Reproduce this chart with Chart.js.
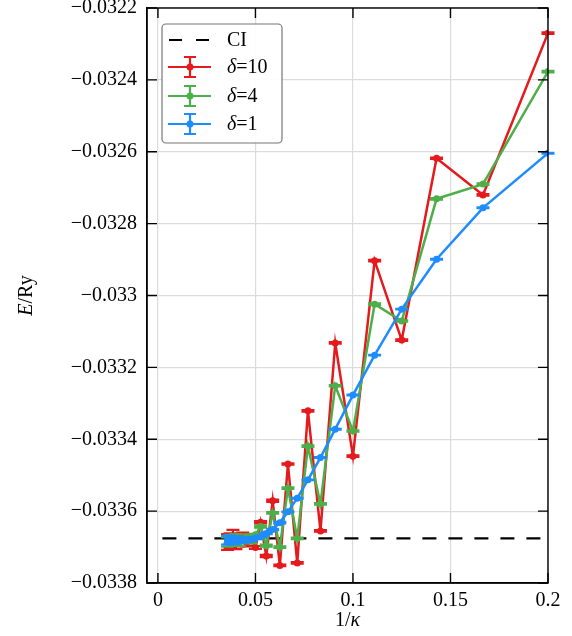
<!DOCTYPE html>
<html>
<head>
<meta charset="utf-8">
<script src="https://cdn.jsdelivr.net/npm/chart.js@4.4.1/dist/chart.umd.min.js"></script>
<style>
  html, body { margin: 0; padding: 0; background: #fff; }
  #wrap { width: 572px; height: 636px; }
</style>
</head>
<body>
<div id="wrap"><canvas id="chart" width="572" height="636"></canvas></div>
<script>
// kappa values, x axis is 1/kappa
var kappa = [5, 6, 7, 8, 9, 10, 11, 12, 13, 14, 15, 16, 17, 18, 19, 20, 21, 22, 23, 24, 25, 26, 27, 28];

var ciEnergy = -0.033676;

var delta10 = [-0.032270, -0.032720, -0.032618, -0.033124, -0.032903, -0.033447, -0.033132, -0.033655,
               -0.033321, -0.033744, -0.033469, -0.033751, -0.033571, -0.033725, -0.033631, -0.033701,
               -0.033678, -0.033688, -0.033672, -0.033684, -0.033690, -0.033670, -0.033682, -0.033686];
var delta10Err = [0.000002, 0.000002, 0.000002, 0.000002, 0.000002, 0.000002, 0.000002, 0.000002,
                  0.000002, 0.000002, 0.000002, 0.000002, 0.000003, 0.000003, 0.000003, 0.000004,
                  0.000008, 0.000010, 0.000012, 0.000014, 0.000016, 0.000018, 0.000020, 0.000022];

var delta4 = [-0.032377, -0.032690, -0.032731, -0.033071, -0.033024, -0.033377, -0.033251, -0.033580,
              -0.033419, -0.033676, -0.033536, -0.033700, -0.033605, -0.033696, -0.033643, -0.033666,
              -0.033684, -0.033672, -0.033680, -0.033688, -0.033674, -0.033682, -0.033678, -0.033686];
var delta4Err = [0.000002, 0.000002, 0.000002, 0.000002, 0.000002, 0.000002, 0.000002, 0.000002,
                 0.000002, 0.000002, 0.000002, 0.000002, 0.000002, 0.000003, 0.000003, 0.000003,
                 0.000006, 0.000007, 0.000008, 0.000009, 0.000010, 0.000011, 0.000012, 0.000013];

var delta1 = [-0.032604, -0.032756, -0.032899, -0.033038, -0.033166, -0.033277, -0.033372, -0.033451,
              -0.033513, -0.033564, -0.033602, -0.033632, -0.033651, -0.033662, -0.033671, -0.033675,
              -0.033678, -0.033680, -0.033679, -0.033681, -0.033680, -0.033682, -0.033679, -0.033681];
var delta1Err = [0.000001, 0.000001, 0.000001, 0.000001, 0.000001, 0.000001, 0.000001, 0.000001,
                 0.000001, 0.000001, 0.000001, 0.000002, 0.000002, 0.000002, 0.000002, 0.000003,
                 0.000005, 0.000006, 0.000007, 0.000008, 0.000009, 0.000010, 0.000011, 0.000012];

var xTicks = [0, 0.05, 0.1, 0.15, 0.2];
var xTickLabels = ['0', '0.05', '0.1', '0.15', '0.2'];
var yTicks = [-0.0338, -0.0336, -0.0334, -0.0332, -0.0330, -0.0328, -0.0326, -0.0324, -0.0322];
var yTickLabels = ['\u22120.0338', '\u22120.0336', '\u22120.0334', '\u22120.0332', '\u22120.033',
                   '\u22120.0328', '\u22120.0326', '\u22120.0324', '\u22120.0322'];

var RED = '#e41a1c', GREEN = '#4daf4a', BLUE = '#1e8cff';
var SERIF = '"Liberation Serif", "Times New Roman", serif';

function pts(vals){
    return vals.map(function(v, i){ return {x: 1 / kappa[i], y: v}; });
}

function series(label, vals, errs, color, order){
    return {
        label: label,
        data: pts(vals),
        errors: errs,
        borderColor: color,
        backgroundColor: color,
        borderWidth: 2.5,
        pointRadius: 3.5,
        pointBorderWidth: 0,
        pointHoverRadius: 3.5,
        tension: 0,
        order: order
    };
}

// error bars, drawn right after each dataset so the layering stays right
var errorBars = {
    id: 'errorBars',
    afterDatasetDraw: function(chart, args){
        var ds = chart.data.datasets[args.index];
        if ( !ds.errors ) return;
        var ctx = chart.ctx, ys = chart.scales.y;
        ctx.save();
        ctx.strokeStyle = ds.borderColor;
        ctx.lineWidth = 2.2;
        args.meta.data.forEach(function(p, i){
            var v = ds.data[i].y, e = ds.errors[i];
            var top = ys.getPixelForValue(v + e), bot = ys.getPixelForValue(v - e);
            ctx.beginPath();
            ctx.moveTo(p.x, top); ctx.lineTo(p.x, bot);
            ctx.moveTo(p.x - 6.5, top); ctx.lineTo(p.x + 6.5, top);
            ctx.moveTo(p.x - 6.5, bot); ctx.lineTo(p.x + 6.5, bot);
            ctx.stroke();
        });
        ctx.restore();
    }
};

function richText(ctx, parts, x, y){
    // parts: [text, italic]; centred on x
    var w = 0;
    parts.forEach(function(p){
        ctx.font = (p[1] ? 'italic ' : '') + '20px ' + SERIF;
        w += ctx.measureText(p[0]).width;
    });
    var cx = x - w / 2;
    ctx.textAlign = 'left';
    parts.forEach(function(p){
        ctx.font = (p[1] ? 'italic ' : '') + '20px ' + SERIF;
        ctx.fillText(p[0], cx, y);
        cx += ctx.measureText(p[0]).width;
    });
}

var frame = {
    id: 'frame',
    afterDraw: function(chart){
        var ctx = chart.ctx, a = chart.chartArea;
        var xs = chart.scales.x, ys = chart.scales.y;
        ctx.save();
        ctx.strokeStyle = '#000';
        ctx.lineWidth = 1.4;
        ctx.strokeRect(a.left, a.top, a.right - a.left, a.bottom - a.top);

        // inward ticks on all four sides
        ctx.beginPath();
        xTicks.forEach(function(t){
            var px = xs.getPixelForValue(t);
            ctx.moveTo(px, a.bottom); ctx.lineTo(px, a.bottom - 10);
            ctx.moveTo(px, a.top); ctx.lineTo(px, a.top + 10);
        });
        yTicks.forEach(function(t){
            var py = ys.getPixelForValue(t);
            ctx.moveTo(a.left, py); ctx.lineTo(a.left + 10, py);
            ctx.moveTo(a.right, py); ctx.lineTo(a.right - 10, py);
        });
        ctx.stroke();

        // axis titles
        ctx.fillStyle = '#000';
        ctx.textBaseline = 'middle';
        richText(ctx, [['1/', false], ['\u03BA', true]], (a.left + a.right) / 2, 621);
        ctx.save();
        ctx.translate(27, (a.top + a.bottom) / 2);
        ctx.rotate(-Math.PI / 2);
        richText(ctx, [['E', true], ['/Ry', false]], 0, 0);
        ctx.restore();

        // legend
        var bx = 162, by = 24, bw = 120, bh = 119, r = 4;
        ctx.beginPath();
        ctx.moveTo(bx + r, by);
        ctx.arcTo(bx + bw, by, bx + bw, by + bh, r);
        ctx.arcTo(bx + bw, by + bh, bx, by + bh, r);
        ctx.arcTo(bx, by + bh, bx, by, r);
        ctx.arcTo(bx, by, bx + bw, by, r);
        ctx.closePath();
        ctx.fillStyle = 'rgba(255,255,255,0.9)';
        ctx.fill();
        ctx.strokeStyle = '#777';
        ctx.lineWidth = 1.2;
        ctx.stroke();

        var rows = [
            {y: 40, dash: true, color: '#000', parts: [['CI', false]]},
            {y: 67, color: RED, parts: [['\u03B4', true], ['=10', false]]},
            {y: 96, color: GREEN, parts: [['\u03B4', true], ['=4', false]]},
            {y: 124, color: BLUE, parts: [['\u03B4', true], ['=1', false]]}
        ];
        rows.forEach(function(row){
            ctx.strokeStyle = row.color;
            ctx.fillStyle = row.color;
            ctx.lineWidth = 2.2;
            ctx.beginPath();
            if ( row.dash ){
                ctx.moveTo(169, row.y); ctx.lineTo(182, row.y);
                ctx.moveTo(196, row.y); ctx.lineTo(209, row.y);
                ctx.stroke();
            } else {
                ctx.moveTo(168, row.y); ctx.lineTo(211, row.y);
                ctx.moveTo(190, row.y - 10); ctx.lineTo(190, row.y + 10);
                ctx.moveTo(184, row.y - 10); ctx.lineTo(196, row.y - 10);
                ctx.moveTo(184, row.y + 10); ctx.lineTo(196, row.y + 10);
                ctx.stroke();
                ctx.beginPath();
                ctx.arc(190, row.y, 3.5, 0, Math.PI * 2);
                ctx.fill();
            }
            ctx.fillStyle = '#000';
            ctx.textBaseline = 'middle';
            var w = 0;
            row.parts.forEach(function(p){
                ctx.font = (p[1] ? 'italic ' : '') + '20px ' + SERIF;
                w += ctx.measureText(p[0]).width;
            });
            richText(ctx, row.parts, 227 + w / 2, row.y + 1);
        });
        ctx.restore();
    }
};

var myChart = new Chart(document.getElementById('chart'), {
    type: 'line',
    data: {
        datasets: [
            {
                label: 'CI',
                data: [{x: 0.0023, y: ciEnergy}, {x: 0.2, y: ciEnergy}],
                borderColor: '#000',
                borderWidth: 2.2,
                borderDash: [14, 12],
                pointRadius: 0,
                order: 4
            },
            series('\u03B4=10', delta10, delta10Err, RED, 3),
            series('\u03B4=4', delta4, delta4Err, GREEN, 2),
            series('\u03B4=1', delta1, delta1Err, BLUE, 1)
        ]
    },
    options: {
        responsive: false,
        animation: false,
        devicePixelRatio: 1,
        layout: { padding: { left: 0, right: 24, top: 8, bottom: 0 } },
        plugins: {
            legend: { display: false },
            tooltip: { enabled: false }
        },
        scales: {
            x: {
                type: 'linear',
                min: -0.0056,
                max: 0.2,
                afterBuildTicks: function(s){ s.ticks = xTicks.map(function(v){ return {value: v}; }); },
                afterFit: function(s){ s.height = 53; s.paddingLeft = 0; s.paddingRight = 0; },
                ticks: {
                    autoSkip: false,
                    maxRotation: 0,
                    padding: 6,
                    color: '#000',
                    font: { family: SERIF, size: 20 },
                    callback: function(v){ return xTickLabels[xTicks.indexOf(v)]; }
                },
                grid: { color: '#dcdcdc', lineWidth: 1.2, drawTicks: false },
                border: { display: true, color: '#000', width: 1.4 }
            },
            y: {
                type: 'linear',
                min: -0.0338,
                max: -0.0322,
                afterBuildTicks: function(s){ s.ticks = yTicks.map(function(v){ return {value: v}; }); },
                afterFit: function(s){ s.width = 147; s.paddingTop = 0; s.paddingBottom = 0; },
                ticks: {
                    autoSkip: false,
                    padding: 10,
                    color: '#000',
                    font: { family: SERIF, size: 20 },
                    callback: function(v, i){ return yTickLabels[i]; }
                },
                grid: { color: '#dcdcdc', lineWidth: 1.2, drawTicks: false },
                border: { display: true, color: '#000', width: 1.4 }
            }
        }
    },
    plugins: [errorBars, frame]
});
</script>
</body>
</html>
